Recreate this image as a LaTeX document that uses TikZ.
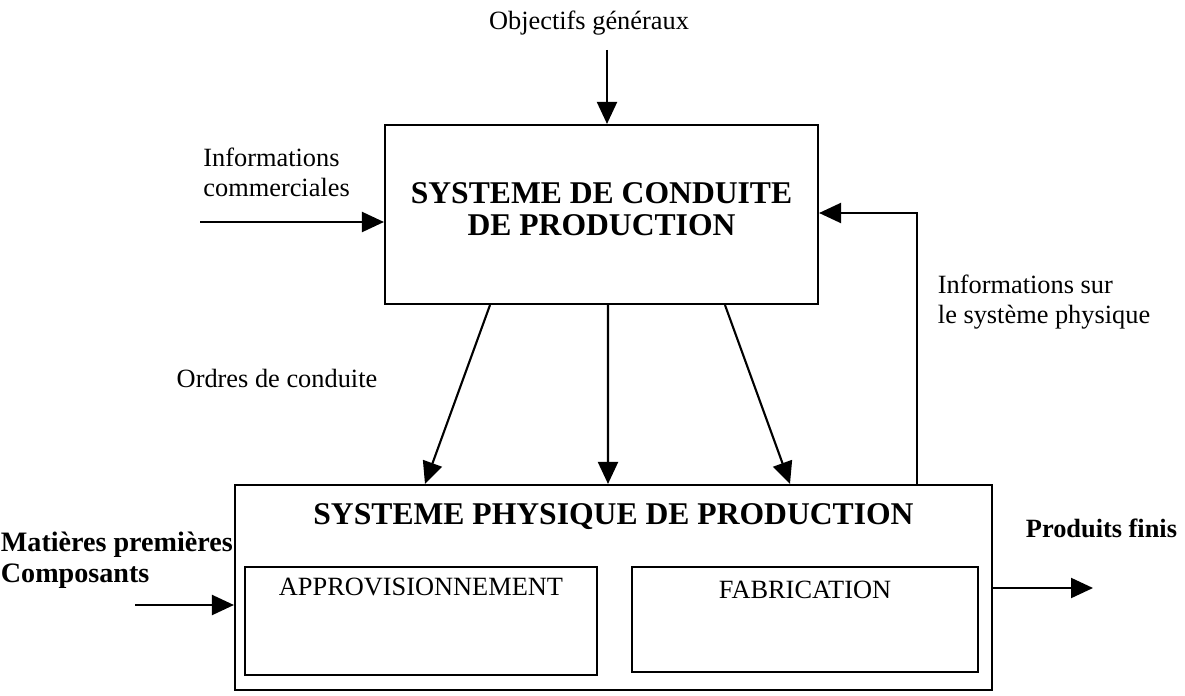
\documentclass[tikz,border=0pt]{standalone}
\usepackage{fontspec}
\setmainfont{Liberation Serif}
\usetikzlibrary{arrows.meta, positioning}
\tikzset{bloc/.style={draw, line width=1.2pt, inner sep=0pt}}
\tikzset{titre/.style={align=center, font=\fontsize{18}{18.5}\selectfont\bfseries}}
\tikzset{gras/.style={font=\fontsize{15}{17}\selectfont\bfseries}}

\begin{document}
\begin{tikzpicture}[>={Triangle[length=4.4mm,width=4mm]}, line width=1.2pt, every node/.style={font=\fontsize{15}{17}\selectfont}]
\useasboundingbox (0,0) rectangle (23.7,-13.92);
% blocs
\node[bloc, minimum width=8.66cm, minimum height=3.58cm] (sc) at (12.03,-4.29) {};
\node[titre] (scT) at (12.03,-4.18) {SYSTEME DE CONDUITE\\DE PRODUCTION};
\node[bloc, minimum width=15.14cm, minimum height=4.1cm] (ph) at (12.27,-11.75) {};
\node[titre] (phT) at (12.27,-10.34) {SYSTEME PHYSIQUE DE PRODUCTION};
\node[bloc, minimum width=7.04cm, minimum height=2.16cm] (appro) at (8.42,-12.42) {};
\node[below=0.1cm of appro.north] (approT) {APPROVISIONNEMENT};
\node[bloc, minimum width=6.92cm, minimum height=2.1cm] (fabri) at (16.1,-12.39) {};
\node[below=0.16cm of fabri.north] (fabriT) {FABRICATION};
% textes
\node (obj) at (11.78,-0.46) {Objectifs généraux};
\node[align=left, anchor=west] (infc) at (3.93,-3.44) {Informations\\commerciales};
\node (ord) at (5.54,-7.56) {Ordres de conduite};
\node[align=left, anchor=west] (infs) at (18.62,-6.04) {Informations sur\\le système physique};
\node[gras, font=\fontsize{16}{17.5}\selectfont\bfseries, align=left, anchor=west] (mat) at (-0.12,-11.2) {Matières premières\\Composants};
\node[gras] (prod) at (22.03,-10.56) {Produits finis};
% fleches
\coordinate (objA) at (12.14,-1.0);
\coordinate (infcA) at (4.0,-4.44);
\coordinate (matA) at (2.7,-12.1);
\coordinate (prodA) at (21.86,-11.76);
\draw[->] (objA) -- (objA |- sc.north);
\draw[->] (infcA) -- (infcA -| sc.west);
\draw[->] ([xshift=-2.23cm]sc.south) -- ([xshift=-3.77cm]ph.north);
\draw[->] ([xshift=0.13cm]sc.south) -- ([xshift=-0.11cm]ph.north);
\draw[->] ([xshift=2.47cm]sc.south) -- ([xshift=3.53cm]ph.north);
\draw[->] ([xshift=6.07cm]ph.north) |- ([yshift=0.03cm]sc.east);
\draw[->] (matA) -- (matA -| ph.west);
\draw[->] (prodA -| ph.east) -- (prodA);
\end{tikzpicture}
\end{document}
